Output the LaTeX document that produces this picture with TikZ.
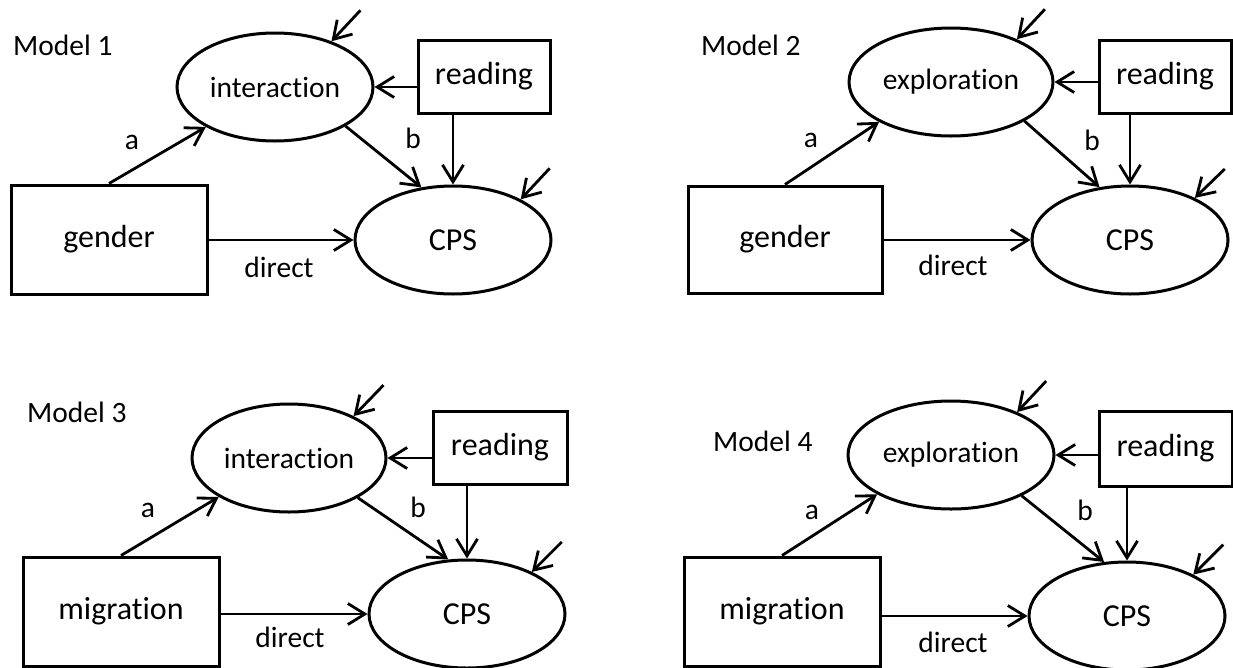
\documentclass[tikz,border=0pt]{standalone}
\usepackage{fontspec}
\setmainfont{Carlito}[Ligatures=NoCommon]
\usetikzlibrary{shapes.geometric,arrows.meta,calc}
\tikzset{
  smalltxt/.style={font=\fontsize{29.5}{34}\selectfont},
  bigtxt/.style={font=\fontsize{32}{36}\selectfont},
  lbl/.style={smalltxt, inner sep=0pt},
  title/.style={smalltxt, inner sep=0pt, anchor=west},
  latent/.style={ellipse, draw, line width=3pt, minimum height=108pt, inner sep=0pt},
  obs/.style={rectangle, draw, line width=3pt, inner sep=0pt, bigtxt},
  conn/.style={-{Straight Barb[length=17pt,width=21pt]}, line width=2.8pt},
}
\begin{document}
\begin{tikzpicture}[x=1pt,y=-1pt]
\useasboundingbox (0,0) rectangle (1233,667);
% ---------- Model 1 ----------
\node[title] (m1t) at (13,45) {Model 1};
\node[latent, minimum width=196pt, smalltxt] (m1int) at (275,87) {interaction};
\node[obs, minimum width=132pt, minimum height=73pt] (m1read) at (484,76.5) {reading};
\node[obs, minimum width=196pt, minimum height=109pt] (m1gen) at (109,239.5) {gender};
\node[latent, minimum width=196pt, bigtxt] (m1cps) at (453,240) {CPS};
\draw[conn] (m1gen.north) -- (m1int.210);
\draw[conn] (m1int.331) -- (m1cps.121);
\draw[conn] (m1read.west |- m1int.east) -- (m1int.east);
\draw[conn] (m1cps.north |- m1read.south) -- (m1cps.north);
\draw[conn] (m1gen.east |- m1cps.west) -- (m1cps.west);
\node[lbl] (m1a) at (132,142) {a};
\node[lbl] (m1b) at (413,138) {b};
\node[lbl] (m1d) at (279,267) {direct};
\coordinate (m1e1) at ($(m1int.39)+(29,-31)$);
\coordinate (m1e2) at ($(m1cps.31)+(29,-31)$);
\draw[conn] (m1e1) -- (m1int.39);
\draw[conn] (m1e2) -- (m1cps.31);
% ---------- Model 2 ----------
\node[title] (m2t) at (701,45) {Model 2};
\node[latent, minimum width=204pt, smalltxt] (m2int) at (951,82) {exploration};
\node[obs, minimum width=132pt, minimum height=73pt] (m2read) at (1165,76.5) {reading};
\node[obs, minimum width=194pt, minimum height=107pt] (m2gen) at (785,239.5) {gender};
\node[latent, minimum width=196pt, bigtxt] (m2cps) at (1130,240) {CPS};
\draw[conn] (m2gen.north) -- (m2int.209);
\draw[conn] (m2int.332) -- (m2cps.120);
\draw[conn] (m2read.west |- m2int.east) -- (m2int.east);
\draw[conn] (m2cps.north |- m2read.south) -- (m2cps.north);
\draw[conn] (m2gen.east |- m2cps.west) -- (m2cps.west);
\node[lbl] (m2a) at (811,140) {a};
\node[lbl] (m2b) at (1092,140) {b};
\node[lbl] (m2d) at (953,265) {direct};
\coordinate (m2e1) at ($(m2int.33)+(28,-30)$);
\coordinate (m2e2) at ($(m2cps.33)+(30,-29)$);
\draw[conn] (m2e1) -- (m2int.33);
\draw[conn] (m2e2) -- (m2cps.33);
% ---------- Model 3 ----------
\node[title] (m3t) at (27,412) {Model 3};
\node[latent, minimum width=194pt, smalltxt] (m3int) at (289,458) {interaction};
\node[obs, minimum width=134pt, minimum height=73pt] (m3read) at (500,447.5) {reading};
\node[obs, minimum width=196pt, minimum height=109pt] (m3gen) at (121,611.5) {migration};
\node[latent, minimum width=196pt, bigtxt] (m3cps) at (467,614) {CPS};
\draw[conn] (m3gen.north) -- (m3int.209);
\draw[conn] (m3int.330) -- (m3cps.109);
\draw[conn] (m3read.west |- m3int.east) -- (m3int.east);
\draw[conn] (m3cps.north |- m3read.south) -- (m3cps.north);
\draw[conn] (m3gen.east |- m3cps.west) -- (m3cps.west);
\node[lbl] (m3a) at (148,510) {a};
\node[lbl] (m3b) at (418,507) {b};
\node[lbl] (m3d) at (290,637) {direct};
\coordinate (m3e1) at ($(m3int.33)+(30,-31)$);
\coordinate (m3e2) at ($(m3cps.33)+(30,-30)$);
\draw[conn] (m3e1) -- (m3int.33);
\draw[conn] (m3e2) -- (m3cps.33);
% ---------- Model 4 ----------
\node[title] (m4t) at (713,441) {Model 4};
\node[latent, minimum width=206pt, smalltxt] (m4int) at (951,455) {exploration};
\node[obs, minimum width=133pt, minimum height=75pt] (m4read) at (1165.5,448.5) {reading};
\node[obs, minimum width=196pt, minimum height=109pt] (m4gen) at (782,611.5) {migration};
\node[latent, minimum width=196pt, bigtxt] (m4cps) at (1127,616) {CPS};
\draw[conn] (m4gen.north) -- (m4int.208);
\draw[conn] (m4int.330) -- (m4cps.113);
\draw[conn] (m4read.west |- m4int.east) -- (m4int.east);
\draw[conn] (m4cps.north |- m4read.south) -- (m4cps.north);
\draw[conn] (m4gen.east |- m4cps.west) -- (m4cps.west);
\node[lbl] (m4a) at (812,512) {a};
\node[lbl] (m4b) at (1085,510) {b};
\node[lbl] (m4d) at (953,642) {direct};
\coordinate (m4e1) at ($(m4int.33)+(29,-31)$);
\coordinate (m4e2) at ($(m4cps.32)+(30,-30)$);
\draw[conn] (m4e1) -- (m4int.33);
\draw[conn] (m4e2) -- (m4cps.32);
\end{tikzpicture}
\end{document}
